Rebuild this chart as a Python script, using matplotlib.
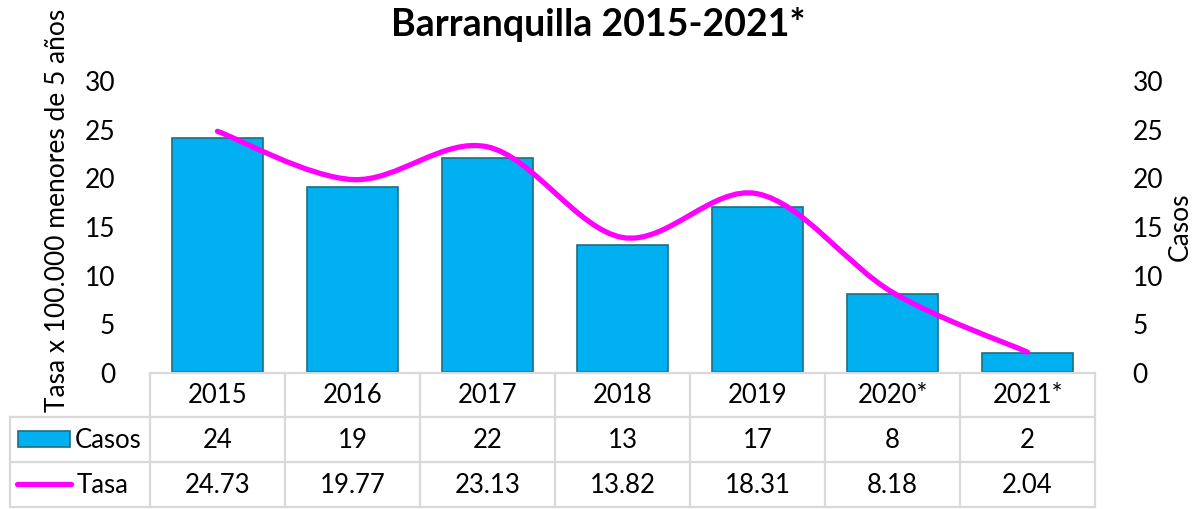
import numpy as np
import matplotlib
matplotlib.use('Agg')
import matplotlib.pyplot as plt
from matplotlib.path import Path
from matplotlib.patches import PathPatch, Rectangle

plt.rcParams['font.family'] = ['Lato', 'DejaVu Sans']

years = ['2015', '2016', '2017', '2018', '2019', '2020*', '2021*']
casos = [24, 19, 22, 13, 17, 8, 2]
tasa = [24.73, 19.77, 23.13, 13.82, 18.31, 8.18, 2.04]
tasa_txt = ['24.73', '19.77', '23.13', '13.82', '18.31', '8.18', '2.04']

W, H = 1196, 510
fig = plt.figure(figsize=(W / 100, H / 100), dpi=100)

# plot area in pixels
x0, x1, ytop, ybot = 150, 1095, 81, 373
ax = fig.add_axes([x0 / W, 1 - ybot / H, (x1 - x0) / W, (ybot - ytop) / H])
x = np.arange(len(years))
ax.bar(x, casos, width=0.67, color='#00B0F0', edgecolor='#1E6E7E', linewidth=1.2, zorder=2)
ax.set_xlim(-0.5, len(years) - 0.5)
ax.set_ylim(0, 30)
ax.set_yticks(range(0, 31, 5))
ax.set_xticks([])
ax.tick_params(axis='y', length=0, labelsize=19, pad=25)
for s in ax.spines.values():
    s.set_visible(False)

# smooth line (Excel style bezier through points)
pts = np.column_stack([x, tasa]).astype(float)
verts = [tuple(pts[0])]
codes = [Path.MOVETO]
n = len(pts)
for i in range(n - 1):
    p0 = pts[i - 1] if i > 0 else pts[i]
    p1, p2 = pts[i], pts[i + 1]
    p3 = pts[i + 2] if i + 2 < n else pts[i + 1]
    c1 = p1 + (p2 - p0) / 6
    c2 = p2 - (p3 - p1) / 6
    verts += [tuple(c1), tuple(c2), tuple(p2)]
    codes += [Path.CURVE4] * 3
ax.add_patch(PathPatch(Path(verts, codes), fill=False, edgecolor='#FF00FF',
                       linewidth=3.8, capstyle='round', zorder=3))

ax2 = ax.twinx()
ax2.set_ylim(0, 30)
ax2.set_yticks(range(0, 31, 5))
ax2.tick_params(axis='y', length=0, labelsize=19, pad=27)
for s in ax2.spines.values():
    s.set_visible(False)

fig.text(0.5, 1 - 24 / H, 'Barranquilla 2015-2021*', ha='center', va='center',
         fontsize=27, fontweight='bold')
fig.text(58 / W, 1 - 210 / H, 'Tasa x 100.000 menores de 5 años', rotation=90,
         ha='center', va='center', fontsize=19)
fig.text(1180 / W, 1 - 227 / H, 'Casos', rotation=90, ha='center', va='center', fontsize=19)

# data table
tb = fig.add_axes([0, 0, 1, 1])
tb.set_xlim(0, W)
tb.set_ylim(H, 0)
tb.axis('off')
gc = '#D9D9D9'
lw = 1.6
rows = [374, 418, 463, 508]
cw = (x1 - x0) / len(years)
tb.plot([x0, x1], [rows[0], rows[0]], color=gc, lw=lw)
for r in rows[1:]:
    tb.plot([10, x1], [r, r], color=gc, lw=lw)
for i in range(len(years) + 1):
    tb.plot([x0 + i * cw] * 2, [rows[0], rows[3]], color=gc, lw=lw)
tb.plot([10, 10], [rows[1], rows[3]], color=gc, lw=lw)
for i in range(len(years)):
    cx = x0 + (i + 0.5) * cw
    tb.text(cx, (rows[0] + rows[1]) / 2, years[i], ha='center', va='center', fontsize=18.5)
    tb.text(cx, (rows[1] + rows[2]) / 2, str(casos[i]), ha='center', va='center', fontsize=18.5)
    tb.text(cx, (rows[2] + rows[3]) / 2, tasa_txt[i], ha='center', va='center', fontsize=18.5)
tb.add_patch(Rectangle((18, 432), 52, 16, facecolor='#00B0F0', edgecolor='#1E6E7E', lw=1.2))
tb.text(75, (rows[1] + rows[2]) / 2, 'Casos', ha='left', va='center', fontsize=18.5)
tb.plot([17, 71], [485, 485], color='#FF00FF', lw=3.8, solid_capstyle='round')
tb.text(77, (rows[2] + rows[3]) / 2, 'Tasa', ha='left', va='center', fontsize=18.5)

fig.savefig('out.png', dpi=100)
